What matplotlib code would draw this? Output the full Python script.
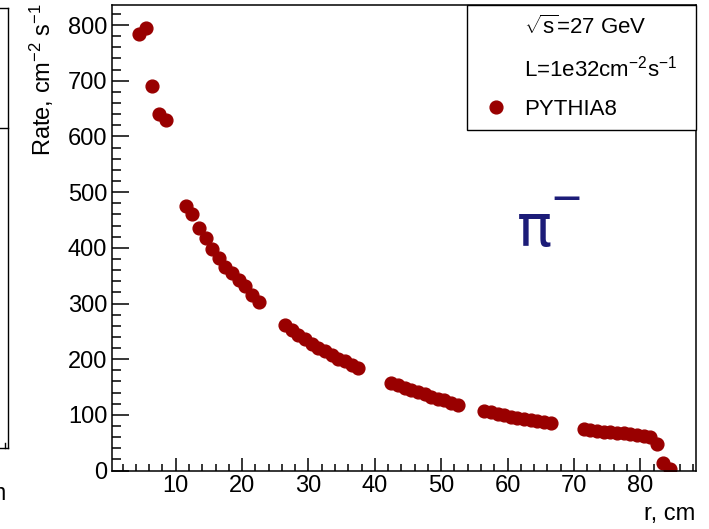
import matplotlib
matplotlib.use('Agg')
import matplotlib.pyplot as plt
from matplotlib.lines import Line2D
from matplotlib.ticker import MultipleLocator

plt.rcParams['font.family'] = 'Liberation Sans'
plt.rcParams['mathtext.fontset'] = 'custom'
plt.rcParams['mathtext.rm'] = 'Liberation Sans'
plt.rcParams['mathtext.it'] = 'Liberation Sans:italic'

# pi- rate vs radius, PYTHIA8, sqrt(s)=27 GeV
r_cm = [4.5, 5.5, 6.5, 7.5, 8.5,
        11.5, 12.5, 13.5, 14.5, 15.5, 16.5, 17.5, 18.5, 19.5, 20.5, 21.5, 22.5,
        26.5, 27.5, 28.5, 29.5, 30.5, 31.5, 32.5, 33.5, 34.5, 35.5, 36.5, 37.5,
        42.5, 43.5, 44.5, 45.5, 46.5, 47.5, 48.5, 49.5, 50.5, 51.5, 52.5,
        56.5, 57.5, 58.5, 59.5, 60.5, 61.5, 62.5, 63.5, 64.5, 65.5, 66.5,
        71.5, 72.5, 73.5, 74.5, 75.5, 76.5, 77.5, 78.5, 79.5, 80.5, 81.5,
        82.5, 83.5, 84.5]
rate = [784, 794, 690, 641, 629,
        475, 461, 436, 418, 398, 381, 365, 354, 343, 331, 316, 302,
        262, 253, 244, 236, 228, 221, 214, 207, 201, 196, 190, 185,
        157, 153, 149, 145, 141, 137, 133, 129, 126, 122, 118,
        107, 105, 102, 100, 97, 95, 93, 91, 89, 87, 85,
        74, 73, 72, 70, 69, 68, 67, 66, 64, 63, 61,
        47, 13, 2]

legend_labels = ['$\\sqrt{\\mathrm{s}}$=27 GeV', 'L=1e32cm$^{-2}$s$^{-1}$', 'PYTHIA8']
marker_color = '#990000'
fs = 17

fig = plt.figure(figsize=(7.09, 5.29), dpi=100)
W, H = 709., 529.
ax = fig.add_axes([112/W, 1-470.6/H, 584/W, 465.6/H])

pts, = ax.plot(r_cm, rate, ls='none', marker='o', ms=9.2, color=marker_color,
               mec=marker_color)

ax.set_xlim(0.4, 88.4)
ax.set_ylim(0, 836)
ax.xaxis.set_major_locator(MultipleLocator(10))
ax.xaxis.set_minor_locator(MultipleLocator(2))
ax.yaxis.set_major_locator(MultipleLocator(100))
ax.yaxis.set_minor_locator(MultipleLocator(20))
ax.tick_params(which='both', direction='in', width=1.1, labelsize=fs, pad=3.5,
               top=False, right=False)
ax.tick_params(axis='x', which='major', length=9.6)
ax.tick_params(axis='x', which='minor', length=5.2)
ax.tick_params(axis='y', which='major', length=12.5)
ax.tick_params(axis='y', which='minor', length=6.3)
ax.set_xticks([10, 20, 30, 40, 50, 60, 70, 80])
for s in ax.spines.values():
    s.set_linewidth(1.1)

fig.text(695/W, 1-514/H, 'r, cm', ha='right', va='center', fontsize=fs)
fig.text(42/W, 1-3/H, 'Rate, cm$^{-2}$ s$^{-1}$', rotation=90,
         ha='center', va='top', fontsize=fs)

# legend box in the upper right corner
blank = Line2D([], [], ls='none')
leg = ax.legend([blank, blank, pts], legend_labels,
                loc='upper left', bbox_to_anchor=(0.608, 0.0, 0.392, 1.0),
                mode='expand', borderaxespad=0, fontsize=16,
                frameon=True, fancybox=False, edgecolor='black',
                framealpha=1, borderpad=0.45, labelspacing=0.78,
                handlelength=1.7, handletextpad=0.4, numpoints=1)
leg.get_frame().set_linewidth(1.0)

# particle tag
ax.text(0.7235, 0.517, 'π', transform=ax.transAxes, fontsize=42,
        family='DejaVu Sans', color='#1c1c78', ha='center', va='center')
ax.text(0.779, 0.575, '−', transform=ax.transAxes, fontsize=38,
        family='Open Sans', color='#1c1c78', ha='center', va='center')

# edge of the neighbouring panel
for (x0, y0, x1, y1) in [(8.3, 8, 8.3, 448), (0, 8, 8.3, 8),
                         (0, 128, 8.3, 128), (0, 448, 8.3, 448),
                         (5, 443, 5, 448)]:
    fig.add_artist(Line2D([x0/W, x1/W], [1-y0/H, 1-y1/H], color='black',
                          lw=1.0, transform=fig.transFigure))
fig.text(6/W, 1-494/H, 'r, cm', ha='right', va='center', fontsize=fs)

fig.savefig('out.png', dpi=100)
